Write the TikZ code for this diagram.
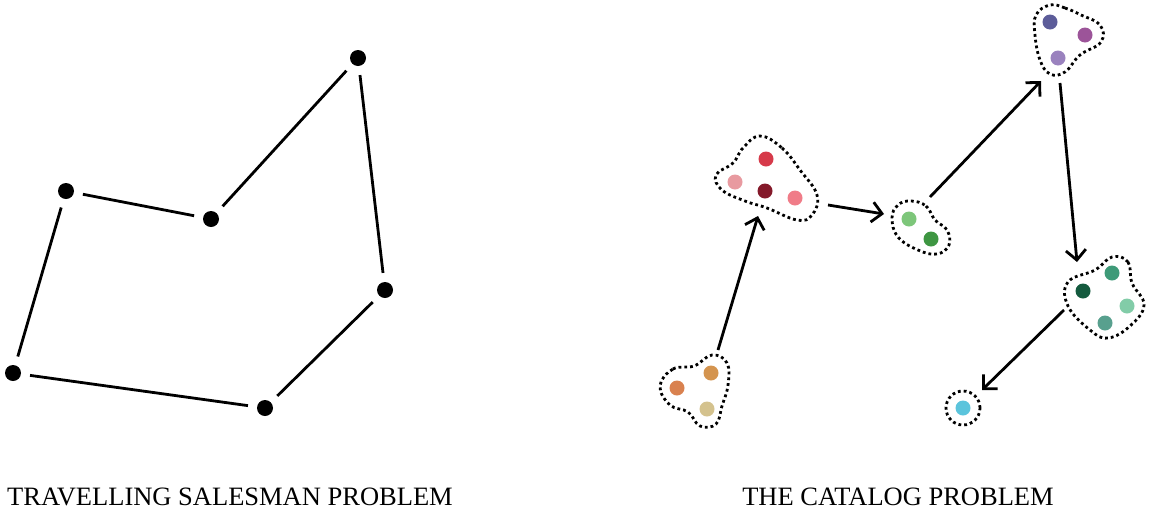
\documentclass[tikz,border=0pt]{standalone}
\usepackage{fontspec}
\setmainfont{Liberation Serif}
\usetikzlibrary{arrows.meta}
\definecolor{o1}{HTML}{D9814F}
\definecolor{o2}{HTML}{D4944F}
\definecolor{o3}{HTML}{D4C28E}
\definecolor{r1}{HTML}{D63A4A}
\definecolor{r2}{HTML}{E89AA0}
\definecolor{r3}{HTML}{84192A}
\definecolor{r4}{HTML}{F07C88}
\definecolor{g1}{HTML}{7DC67A}
\definecolor{g2}{HTML}{3E9642}
\definecolor{p1}{HTML}{5C5C99}
\definecolor{p2}{HTML}{9C5499}
\definecolor{p3}{HTML}{9A82BE}
\definecolor{t1}{HTML}{3E9A78}
\definecolor{t2}{HTML}{145A3E}
\definecolor{t3}{HTML}{82CCA8}
\definecolor{t4}{HTML}{58A08E}
\definecolor{c1}{HTML}{5BC4DC}
\tikzset{
  city/.style={circle,fill=black,inner sep=0pt,minimum size=16pt},
  item/.style={circle,fill=#1,inner sep=0pt,minimum size=15pt},
  tour/.style={line width=2.8pt,shorten >=9pt,shorten <=9pt},
  blob/.style={line width=2.8pt,dash pattern=on 2.8pt off 3pt},
  flow/.style={line width=2.8pt,-{Straight Barb[length=10pt,width=20pt,line width=2.8pt]}},
  title/.style={font=\fontsize{26.5}{30}\selectfont,anchor=base}
}
\begin{document}
\begin{tikzpicture}[x=1pt,y=-1pt]
\useasboundingbox (0,0) rectangle (1149,512);
% TSP
\node[city] (a) at (358,58) {};
\node[city] (b) at (211,219) {};
\node[city] (c) at (66,191) {};
\node[city] (d) at (13,373) {};
\node[city] (e) at (265,408) {};
\node[city] (f) at (385,290) {};
\draw[tour] (a) -- (b);
\draw[tour] (b) -- (c);
\draw[tour] (c) -- (d);
\draw[tour] (d) -- (e);
\draw[tour] (e) -- (f);
\draw[tour] (f) -- (a);
\node[title] (t1) at (230,505) {TRAVELLING SALESMAN PROBLEM};
% Catalog
\draw[blob] plot[smooth cycle,tension=0.7] coordinates {(660,386) (673,369) (694,366) (712,355) (727,363) (728,385) (722,406) (716,424) (700,426) (688,412) (670,405)};
\node[item=o1] (o1) at (677,388) {};
\node[item=o2] (o2) at (711,373) {};
\node[item=o3] (o3) at (707,409) {};

\draw[blob] plot[smooth cycle,tension=0.7] coordinates {(760,136) (782,148) (800,170) (817,195) (812,215) (797,220) (767,208) (745,201) (722,190) (716,175) (733,163) (743,148)};
\node[item=r1] (r1) at (766,159) {};
\node[item=r2] (r2) at (735,182) {};
\node[item=r3] (r3) at (765,191) {};
\node[item=r4] (r4) at (795,198) {};

\draw[blob] plot[smooth cycle,tension=0.7] coordinates {(911,201) (926,206) (935,220) (947,230) (949,245) (937,254) (918,250) (898,237) (892,218) (898,205)};
\node[item=g1] (g1) at (909,219) {};
\node[item=g2] (g2) at (931,239) {};

\draw[blob] plot[smooth cycle,tension=0.7] coordinates {(1050,5) (1065,8) (1081,15) (1100,25) (1101,42) (1080,55) (1065,72) (1050,74) (1040,60) (1035,35) (1036,15)};
\node[item=p1] (p1) at (1050,22) {};
\node[item=p2] (p2) at (1085,35) {};
\node[item=p3] (p3) at (1058,58) {};

\draw[blob] plot[smooth cycle,tension=0.7] coordinates {(1112,257) (1128,262) (1132,283) (1144,305) (1130,326) (1108,338) (1090,330) (1068,306) (1068,282) (1095,270)};
\node[item=t1] (tt1) at (1112,273) {};
\node[item=t2] (tt2) at (1083,291) {};
\node[item=t3] (tt3) at (1127,306) {};
\node[item=t4] (tt4) at (1105,323) {};

\node[item=c1] (c1) at (963,408) {};
\draw[blob] (c1) circle[radius=17pt];

\coordinate (s1) at (718,350);
\coordinate (e1) at (758,216);
\coordinate (s2) at (828,205);
\coordinate (e2) at (884,214);
\coordinate (s3) at (930,197);
\coordinate (e3) at (1041,81);
\coordinate (s4) at (1060,83);
\coordinate (e4) at (1077,262);
\coordinate (s5) at (1064,310);
\coordinate (e5) at (982,390);
\draw[flow] (s1) -- (e1);
\draw[flow] (s2) -- (e2);
\draw[flow] (s3) -- (e3);
\draw[flow] (s4) -- (e4);
\draw[flow] (s5) -- (e5);
\node[title] (t2) at (898,505) {THE CATALOG PROBLEM};
\end{tikzpicture}
\end{document}
